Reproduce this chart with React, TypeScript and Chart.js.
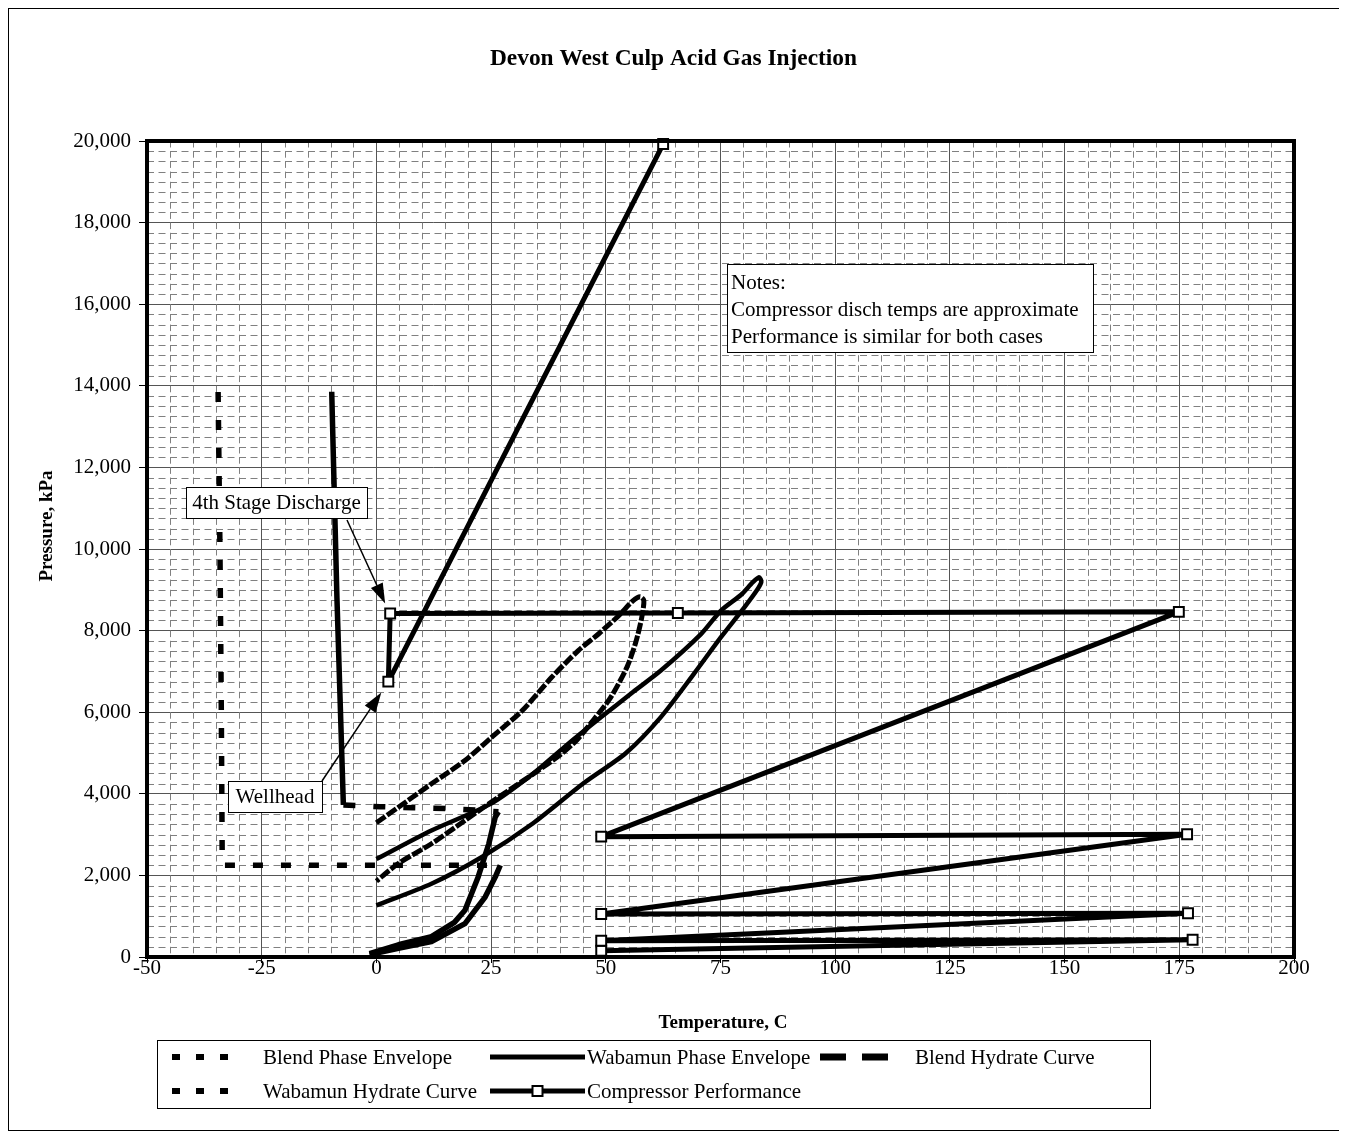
import React, { useEffect, useRef } from "react";
import { Chart, registerables } from "chart.js";

Chart.register(...registerables);

const FONT = '"Liberation Serif", "Times New Roman", Times, serif';

// ---------- data (Temperature C, Pressure kPa) ----------
const BLEND_PE_T = [0, 4.8, 12, 19.3, 25.1, 31.8, 38.2, 44, 48.4, 52.8, 55.9, 57.5, 58.3, 57.8, 56.5, 54.6, 51, 47.3, 43.7, 40, 35, 30, 26.6, 19.3, 12, 4.7, 0];
const BLEND_PE_P = [3290, 3670, 4245, 4815, 5385, 6040, 6855, 7510, 7917, 8365, 8730, 8830, 8740, 8300, 7700, 7100, 6350, 5810, 5320, 4950, 4550, 4170, 3917, 3346, 2776, 2286, 1860];

const WAB_PE_T = [0, 12, 25, 34, 41, 49, 56, 62, 70.8, 75.1, 79.5, 82, 83.4, 83.9, 83, 80.2, 75.1, 69.2, 62, 54.4, 45, 34, 23, 12, 0];
const WAB_PE_P = [2400, 3100, 3760, 4480, 5150, 5880, 6500, 7020, 7920, 8490, 8880, 9180, 9310, 9200, 9000, 8570, 7840, 6940, 5880, 5000, 4245, 3265, 2450, 1795, 1265];

const BLEND_HYD_T = [-9.74, -8.6, -7.2, 0.8, 8, 15, 21.5, 26.6, 25.9, 24.5, 22.2, 19.3, 17, 12, 4.8, -1.5];
const BLEND_HYD_P = [13855, 8800, 3725, 3684, 3660, 3640, 3600, 3560, 3427, 2776, 1968, 1145, 850, 500, 300, 80];

const WAB_HYD_T = [-34.5, -34.1, -33.8, -33.6, 27, 25.9, 23.7, 19.3, 12, 4.8, -1.5];
const WAB_HYD_P = [13850, 10000, 6000, 2250, 2250, 1958, 1469, 817, 380, 213, 60];

const COMP_T = [49, 177.9, 49, 176.9, 49, 176.7, 49, 174.9, 65.7, 3.0, 2.6, 62.5];
const COMP_P = [155, 424, 400, 1071, 1054, 3007, 2950, 8460, 8430, 8420, 6750, 19926];

const X_MIN = -50, X_MAX = 200, X_STEP = 25, X_MINOR = 5;
const Y_MIN = 0, Y_MAX = 20000, Y_STEP = 2000, Y_MINOR = 250;

const TITLE = "Devon West Culp Acid Gas Injection";
const X_TITLE = "Temperature, C";
const Y_TITLE = "Pressure, kPa";
const NOTES = ["Notes:", "Compressor disch temps are approximate", "Performance is similar for both cases"];
const LABEL_4TH = "4th Stage Discharge";
const LABEL_WELL = "Wellhead";

const SERIES_NAMES = ["Blend Phase Envelope", "Wabamun Phase Envelope", "Blend Hydrate Curve", "Wabamun Hydrate Curve", "Compressor Performance"];

const toPts = (t: number[], p: number[]) => t.map((x, i) => ({ x, y: p[i] }));

function segDash(rule: "h" | "hv", dash: number[]) {
  return (ctx: any) => {
    const dx = Math.abs(ctx.p1.x - ctx.p0.x);
    const dy = Math.abs(ctx.p1.y - ctx.p0.y);
    const horiz = dy < 0.15 * dx;
    const vert = dx < 0.15 * dy;
    if (rule === "h") return horiz ? dash : [];
    return horiz || vert ? dash : [];
  };
}

function drawArrow(c: CanvasRenderingContext2D, x0: number, y0: number, x1: number, y1: number) {
  c.save();
  c.strokeStyle = "#000";
  c.fillStyle = "#000";
  c.lineWidth = 1.5;
  const ang = Math.atan2(y1 - y0, x1 - x0);
  const len = 20, hw = 6.5;
  const bx = x1 - len * Math.cos(ang), by = y1 - len * Math.sin(ang);
  c.beginPath();
  c.moveTo(x0, y0);
  c.lineTo(bx, by);
  c.stroke();
  c.beginPath();
  c.moveTo(x1, y1);
  c.lineTo(bx + hw * Math.sin(ang), by - hw * Math.cos(ang));
  c.lineTo(bx - hw * Math.sin(ang), by + hw * Math.cos(ang));
  c.closePath();
  c.fill();
  c.restore();
}

function textBox(c: CanvasRenderingContext2D, x: number, y: number, w: number, h: number, text: string) {
  c.save();
  c.fillStyle = "#fff";
  c.fillRect(x, y, w, h);
  c.strokeStyle = "#000";
  c.lineWidth = 1;
  c.strokeRect(x + 0.5, y + 0.5, w, h);
  c.fillStyle = "#000";
  c.font = `21px ${FONT}`;
  c.textAlign = "center";
  c.textBaseline = "middle";
  c.fillText(text, x + w / 2, y + h / 2 + 1);
  c.restore();
}

const minorGrid = {
  id: "minorGrid",
  beforeDatasetsDraw(chart: any) {
    const { ctx: c, chartArea: a, scales } = chart;
    const xs = scales.x, ys = scales.y;
    c.save();
    c.strokeStyle = "#808080";
    c.lineWidth = 1;
    c.setLineDash([7, 4.5]);
    for (let v = Y_MIN + Y_MINOR; v < Y_MAX; v += Y_MINOR) {
      if (v % Y_STEP === 0) continue;
      const y = Math.round(ys.getPixelForValue(v)) + 0.5;
      c.beginPath();
      c.moveTo(a.left, y);
      c.lineTo(a.right, y);
      c.stroke();
    }
    c.setLineDash([6.5, 3.7]);
    for (let v = X_MIN + X_MINOR; v < X_MAX; v += X_MINOR) {
      if (v % X_STEP === 0) continue;
      const x = Math.round(xs.getPixelForValue(v)) + 0.5;
      c.beginPath();
      c.moveTo(x, a.top);
      c.lineTo(x, a.bottom);
      c.stroke();
    }
    c.restore();
  },
  afterDatasetsDraw(chart: any) {
    const { ctx: c, chartArea: a, scales } = chart;
    const xs = scales.x, ys = scales.y;
    c.save();
    c.strokeStyle = "#000";
    c.lineWidth = 4;
    c.strokeRect(a.left, a.top, a.right - a.left, a.bottom - a.top);
    c.restore();

    // annotations
    textBox(c, 718, 255, 366, 88, "");
    c.save();
    c.fillStyle = "#000";
    c.font = `21px ${FONT}`;
    c.textAlign = "left";
    c.textBaseline = "middle";
    NOTES.forEach((t, i) => c.fillText(t, 722, 274 + i * 27));
    c.restore();

    textBox(c, 177, 478, 181, 31, LABEL_4TH);
    const p4x = xs.getPixelForValue(COMP_T[9]), p4y = ys.getPixelForValue(COMP_P[9]);
    drawArrow(c, 338, 511, p4x - 5, p4y - 10);

    textBox(c, 219, 772, 94, 31, LABEL_WELL);
    const pwx = xs.getPixelForValue(COMP_T[10]), pwy = ys.getPixelForValue(COMP_P[10]);
    drawArrow(c, 313, 772, pwx - 7, pwy + 11);
  },
  afterDraw(chart: any) {
    const c: CanvasRenderingContext2D = chart.ctx;
    c.save();
    c.fillStyle = "#000";
    c.textAlign = "center";
    c.textBaseline = "middle";
    c.font = `bold 23.4px ${FONT}`;
    c.fillText(TITLE, 664.5, 49.5);
    c.font = `bold 19px ${FONT}`;
    c.fillText(X_TITLE, 714, 1014.5);
    c.save();
    c.translate(38, 517);
    c.rotate(-Math.PI / 2);
    c.fillText(Y_TITLE, 0, 0);
    c.restore();

    // legend
    const lx = 148, ly = 1031, lw = 993, lh = 68;
    c.fillStyle = "#fff";
    c.fillRect(lx, ly, lw, lh);
    c.strokeStyle = "#000";
    c.lineWidth = 1;
    c.strokeRect(lx + 0.5, ly + 0.5, lw, lh);
    const items = [
      { name: SERIES_NAMES[0], x0: 163, x1: 219, tx: 254, y: 1048, dash: [8, 16], w: 6, marker: false },
      { name: SERIES_NAMES[1], x0: 481, x1: 576, tx: 578, y: 1048, dash: [], w: 5, marker: false },
      { name: SERIES_NAMES[2], x0: 811, x1: 879, tx: 906, y: 1048, dash: [26, 16], w: 7, marker: false },
      { name: SERIES_NAMES[3], x0: 163, x1: 219, tx: 254, y: 1082, dash: [8, 16], w: 6, marker: false },
      { name: SERIES_NAMES[4], x0: 481, x1: 576, tx: 578, y: 1082, dash: [], w: 5, marker: true },
    ];
    items.forEach((it) => {
      c.save();
      c.strokeStyle = "#000";
      c.lineWidth = it.w;
      c.lineCap = "butt";
      c.setLineDash(it.dash);
      c.beginPath();
      c.moveTo(it.x0, it.y);
      c.lineTo(it.x1, it.y);
      c.stroke();
      c.setLineDash([]);
      if (it.marker) {
        const mx = (it.x0 + it.x1) / 2;
        c.fillStyle = "#fff";
        c.fillRect(mx - 5, it.y - 5, 10, 10);
        c.lineWidth = 2;
        c.strokeRect(mx - 5, it.y - 5, 10, 10);
      }
      c.fillStyle = "#000";
      c.font = `21px ${FONT}`;
      c.textAlign = "left";
      c.textBaseline = "middle";
      c.fillText(it.name, it.tx, it.y + 1);
      c.restore();
    });
    c.restore();
  },
};

export default function App() {
  const ref = useRef<HTMLCanvasElement | null>(null);
  useEffect(() => {
    if (!ref.current) return;
    const base = { showLine: true, pointRadius: 0, borderColor: "#000", backgroundColor: "#000", fill: false, tension: 0, borderJoinStyle: "round" as const };
    const chart = new Chart(ref.current, {
      type: "scatter",
      data: {
        datasets: [
          { ...base, label: SERIES_NAMES[0], data: toPts(BLEND_PE_T, BLEND_PE_P), borderWidth: 5, borderDash: [11, 2], tension: 0.25 },
          { ...base, label: SERIES_NAMES[1], data: toPts(WAB_PE_T, WAB_PE_P), borderWidth: 4.5, tension: 0.25 },
          { ...base, label: SERIES_NAMES[2], data: toPts(BLEND_HYD_T, BLEND_HYD_P), borderWidth: 5.5, segment: { borderDash: segDash("h", [12, 18]) } },
          { ...base, label: SERIES_NAMES[3], data: toPts(WAB_HYD_T, WAB_HYD_P), borderWidth: 5.5, segment: { borderDash: segDash("hv", [10, 18]) } },
          {
            ...base, label: SERIES_NAMES[4], data: toPts(COMP_T, COMP_P), borderWidth: 5,
            pointRadius: 7, pointStyle: "rect", pointBackgroundColor: "#fff", pointBorderColor: "#000", pointBorderWidth: 2,
            clip: false as any,
          },
        ],
      },
      options: {
        animation: false,
        responsive: false,
        events: [],
        layout: { padding: { left: 20, right: 45, top: 132, bottom: 0 } },
        plugins: { legend: { display: false }, title: { display: false }, tooltip: { enabled: false } },
        scales: {
          x: {
            type: "linear", min: X_MIN, max: X_MAX,
            afterFit: (s: any) => { s.height = 173; },
            ticks: { stepSize: X_STEP, color: "#000", font: { family: FONT, size: 21 }, padding: -7, maxRotation: 0, autoSkip: false },
            grid: { color: "#555", lineWidth: 1, tickLength: 6, tickColor: "#000" },
            border: { display: false },
          },
          y: {
            type: "linear", min: Y_MIN, max: Y_MAX,
            afterFit: (s: any) => { s.width = 118; },
            ticks: { stepSize: Y_STEP, color: "#000", font: { family: FONT, size: 21 }, padding: 8 },
            grid: { color: "#555", lineWidth: 1, tickLength: 8, tickColor: "#000" },
            border: { display: false },
          },
        },
      },
      plugins: [minorGrid],
    });
    return () => chart.destroy();
  }, []);
  return (
    <div style={{ width: 1332, height: 1123, border: "1px solid #000", boxSizing: "border-box", position: "relative", background: "#fff" }}>
      <canvas ref={ref} width={1330} height={1121} style={{ display: "block", width: 1330, height: 1121 }} />
    </div>
  );
}
